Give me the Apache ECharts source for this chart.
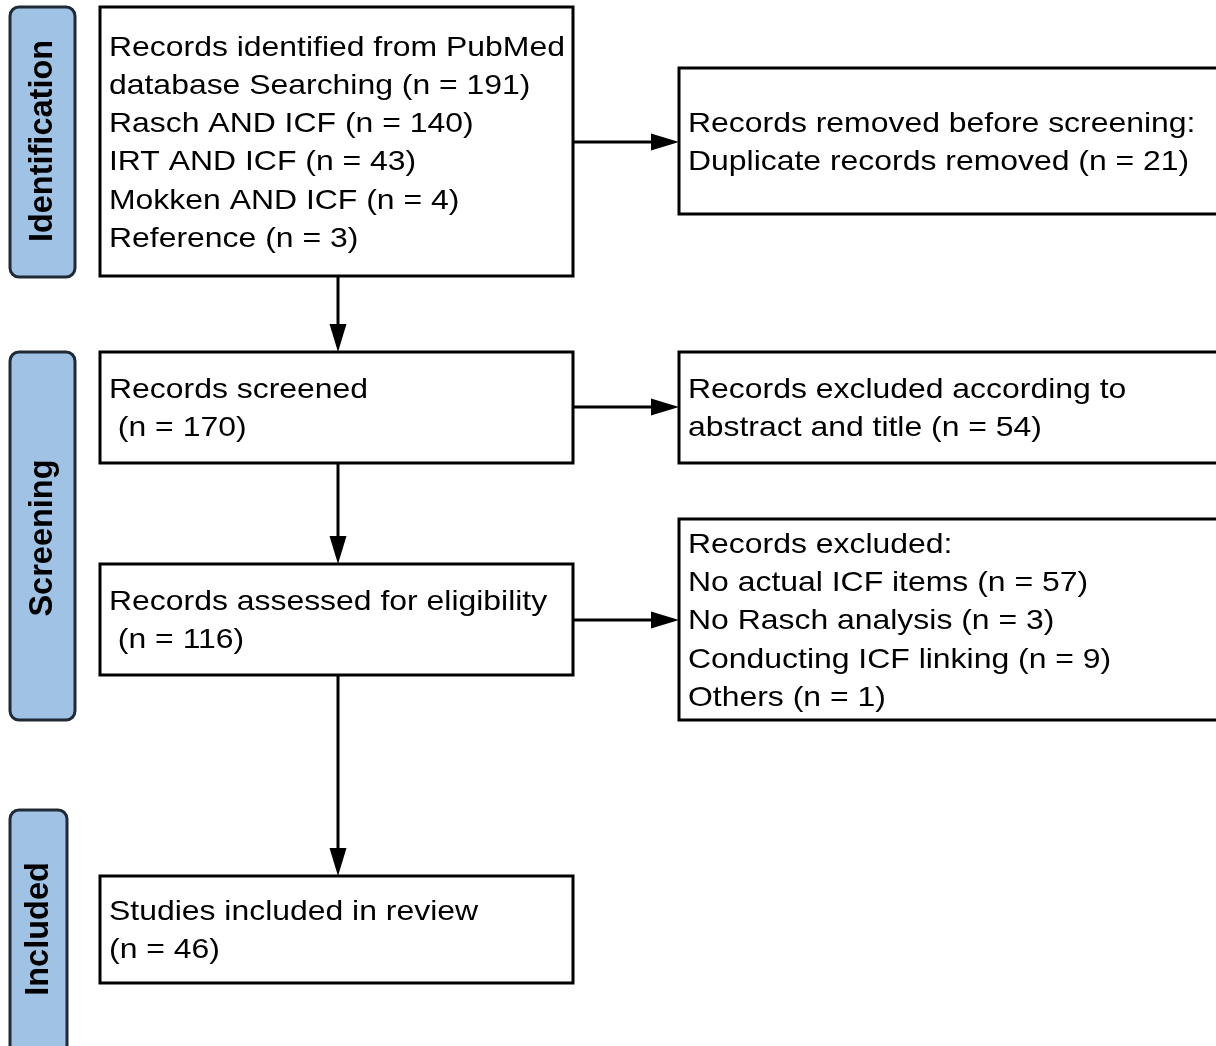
<!DOCTYPE html>
<html>
<head>
<meta charset="utf-8">
<script src="https://cdn.jsdelivr.net/npm/echarts@6/dist/echarts.min.js"></script>
<style>
  html, body { margin: 0; padding: 0; background: #fff; }
  #main { width: 1216px; height: 1046px; }
</style>
</head>
<body>
<div id="main"></div>
<script>
// flow data (PRISMA)
const stageNames = ['Identification', 'Screening', 'Included']
const identifiedTotal = 191
const searchTerms = ['Rasch AND ICF', 'IRT AND ICF', 'Mokken AND ICF', 'Reference']
const searchCounts = [140, 43, 4, 3]
const duplicatesRemoved = 21
const screenedCount = 170
const abstractExcluded = 54
const assessedCount = 116
const exclusionReasons = ['No actual ICF items', 'No Rasch analysis', 'Conducting ICF linking', 'Others']
const exclusionCounts = [57, 3, 9, 1]
const includedCount = 46

// box texts built from the data
const boxTexts = {
  identified: ['Records identified from PubMed', 'database Searching (n = ' + identifiedTotal + ')']
    .concat(searchTerms.map((t, i) => t + ' (n = ' + searchCounts[i] + ')')),
  removed: ['Records removed before screening:', 'Duplicate records removed (n = ' + duplicatesRemoved + ')'],
  screened: ['Records screened', ' (n = ' + screenedCount + ')'],
  abstractEx: ['Records excluded according to', 'abstract and title (n = ' + abstractExcluded + ')'],
  assessed: ['Records assessed for eligibility', ' (n = ' + assessedCount + ')'],
  excluded: ['Records excluded:'].concat(exclusionReasons.map((t, i) => t + ' (n = ' + exclusionCounts[i] + ')')),
  included: ['Studies included in review', '(n = ' + includedCount + ')']
}

// layout (pixels)
const boxes = {
  identified: [100, 7, 573, 276],
  removed: [679, 68, 1222, 214],
  screened: [100, 352, 573, 463],
  abstractEx: [679, 352, 1222, 463],
  assessed: [100, 564, 573, 675],
  excluded: [679, 519, 1222, 720],
  included: [100, 876, 573, 983]
}
const stageBoxes = [[10, 7, 75, 277], [10, 352, 75, 720], [10, 810, 67, 1060]]
const stageCenters = [141, 538, 929]
const arrows = [
  ['v', 338, 276, 352], ['v', 338, 463, 564], ['v', 338, 675, 876],
  ['h', 142, 573, 679], ['h', 407, 573, 679], ['h', 620, 573, 679]
]

const LINE_H = 38.2
const FONT = '28.5px "Liberation Sans", Arial, sans-serif'
const elements = []

Object.keys(boxes).forEach(key => {
  const [x0, y0, x1, y1] = boxes[key]
  elements.push({
    type: 'rect',
    shape: { x: x0, y: y0, width: x1 - x0, height: y1 - y0 },
    style: { fill: '#fff', stroke: '#000', lineWidth: 3 }
  })
  const lines = boxTexts[key]
  const cy = (y0 + y1) / 2 + 2
  lines.forEach((t, i) => {
    elements.push({
      type: 'text',
      x: x0 + 9,
      y: cy + (i - (lines.length - 1) / 2) * LINE_H,
      scaleX: 1.12,
      style: { text: t, font: FONT, fill: '#000', verticalAlign: 'middle', align: 'left' }
    })
  })
})

stageBoxes.forEach((b, i) => {
  const [x0, y0, x1, y1] = b
  elements.push({
    type: 'rect',
    shape: { x: x0, y: y0, width: x1 - x0, height: y1 - y0, r: 9 },
    style: { fill: '#a0c2e5', stroke: '#1f2a36', lineWidth: 3 }
  })
  elements.push({
    type: 'text',
    x: (x0 + x1) / 2 + 1,
    y: stageCenters[i],
    rotation: Math.PI / 2,
    style: {
      text: stageNames[i], font: 'bold 32.5px "Liberation Sans", Arial, sans-serif',
      fill: '#000', align: 'center', verticalAlign: 'middle'
    }
  })
})

const HEAD_L = 28
const HEAD_W = 8.5
arrows.forEach(a => {
  if (a[0] === 'v') {
    const [, x, ya, yb] = a
    elements.push({ type: 'line', shape: { x1: x, y1: ya, x2: x, y2: yb - HEAD_L + 2 }, style: { stroke: '#000', lineWidth: 3 } })
    elements.push({ type: 'polygon', shape: { points: [[x - HEAD_W, yb - HEAD_L], [x + HEAD_W, yb - HEAD_L], [x, yb]] }, style: { fill: '#000' } })
  } else {
    const [, y, xa, xb] = a
    elements.push({ type: 'line', shape: { x1: xa, y1: y, x2: xb - HEAD_L + 2, y2: y }, style: { stroke: '#000', lineWidth: 3 } })
    elements.push({ type: 'polygon', shape: { points: [[xb - HEAD_L, y - HEAD_W], [xb - HEAD_L, y + HEAD_W], [xb, y]] }, style: { fill: '#000' } })
  }
})

const chart = echarts.init(document.getElementById('main'))
chart.setOption({
  backgroundColor: '#fff',
  animation: false,
  graphic: { elements: elements }
})
</script>
</body>
</html>
